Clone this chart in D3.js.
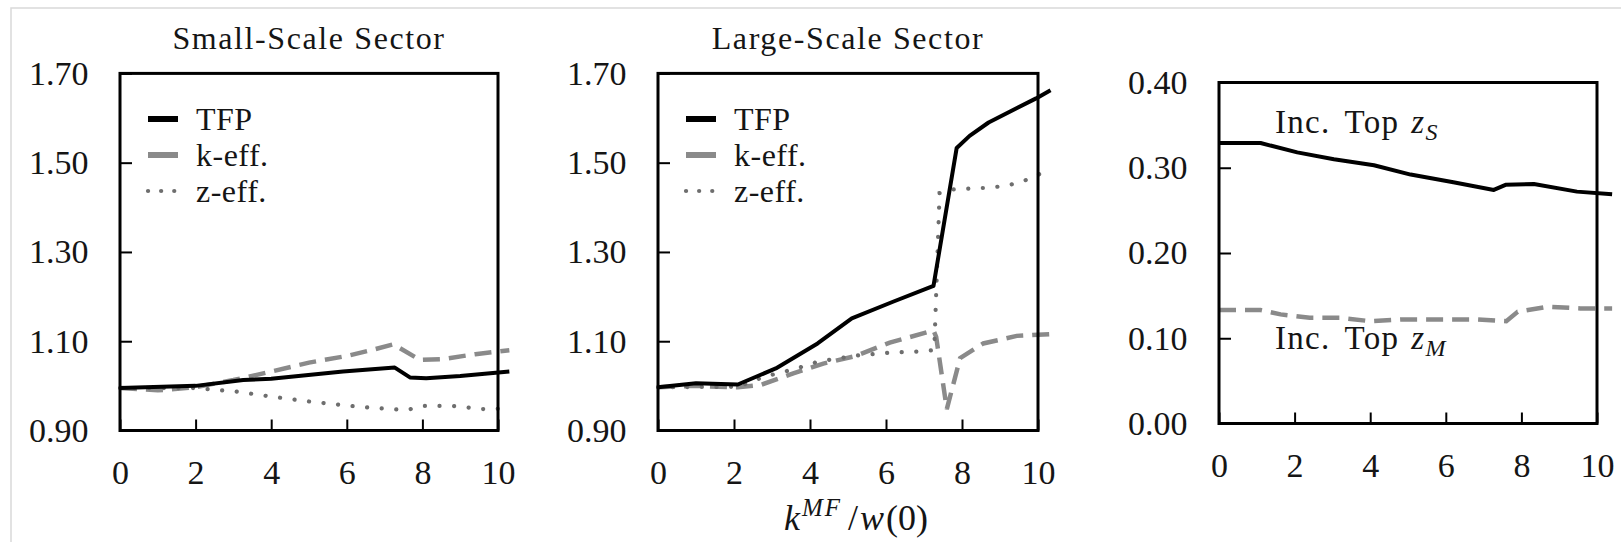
<!DOCTYPE html>
<html lang="en">
<head>
<meta charset="UTF-8">
<title>TFP by sector</title>
<style>
    body { margin: 0; background: #fff; }
    svg { display: block; font-family: "Liberation Serif", "Times New Roman", serif; }
    text { fill: #151515; }
    .axis { font-family: "Liberation Serif", "Times New Roman", serif; }
    .axis text { font-size: 34px; fill: #151515; }
    .axis line { stroke: #000; stroke-width: 2; }
    .axis path { display: none; }
    .frame { fill: none; stroke: #000; stroke-width: 3; }
    .title { font-size: 32px; letter-spacing: 1.6px; text-anchor: middle; }
    .legend text { font-size: 32px; letter-spacing: 0.5px; }
    .note { font-size: 33px; letter-spacing: 1.3px; }
    .tfp { fill: none; stroke: #000; stroke-width: 4; stroke-linejoin: round; }
    .keff { fill: none; stroke: #8a8a8a; stroke-width: 4.5; stroke-dasharray: 17 9; }
    .zeff { fill: none; stroke: #6e6e6e; stroke-width: 4.2; stroke-dasharray: 0.1 14.5; stroke-linecap: round; }
</style>
</head>
<body>
<script src="https://d3js.org/d3.v7.min.js"></script>
<script>
    const width = 1621;
    const height = 542;

    // tick values
    const xTicks = [0, 2, 4, 6, 8, 10];
    const sectorYTicks = [0.9, 1.1, 1.3, 1.5, 1.7];
    const shareYTicks = [0, 0.1, 0.2, 0.3, 0.4];
    const legendLabels = ['TFP', 'k-eff.', 'z-eff.'];
    const panelTitles = ['Small-Scale Sector', 'Large-Scale Sector'];

    // small-scale sector
    const smallTfpX = [0, 2, 3.26, 4, 5.9, 7.27, 7.67, 8.1, 9, 10.3];
    const smallTfpY = [0.995, 1.0, 1.013, 1.016, 1.032, 1.041, 1.019, 1.017, 1.022, 1.032];
    const smallKX = [0, 1, 2, 3, 4, 5, 6, 6.6, 7.23, 7.94, 8.55, 9.4, 10.3];
    const smallKY = [0.995, 0.99, 0.997, 1.013, 1.032, 1.052, 1.067, 1.079, 1.093, 1.058, 1.06, 1.071, 1.08];
    const smallZX = [0, 2, 3, 4, 5, 6, 6.8, 7.6, 8, 8.8, 9.6, 10.3];
    const smallZY = [0.995, 0.995, 0.988, 0.976, 0.965, 0.956, 0.95, 0.946, 0.955, 0.955, 0.948, 0.949];

    // large-scale sector
    const largeTfpX = [0, 1, 2.1, 3.1, 4.2, 5.1, 6.2, 7.25, 7.86, 8.2, 8.7, 9.95, 10.33];
    const largeTfpY = [0.997, 1.006, 1.003, 1.039, 1.095, 1.151, 1.189, 1.224, 1.533, 1.56, 1.59, 1.644, 1.662];
    const largeKX = [0, 0.9, 2.1, 2.7, 3.56, 4.35, 5.2, 6.1, 7.25, 7.32, 7.6, 7.95, 8.56, 9.44, 10.33];
    const largeKY = [0.997, 1.0, 0.997, 1.002, 1.028, 1.05, 1.067, 1.097, 1.124, 1.11, 0.948, 1.062, 1.095, 1.112, 1.116];
    const largeZX = [0, 2.1, 2.82, 3.65, 4.2, 5.23, 6.2, 6.85, 7.27, 7.41, 7.77, 8.72, 9.13, 9.54, 9.95, 10.33];
    const largeZY = [0.997, 0.998, 1.021, 1.039, 1.054, 1.068, 1.075, 1.077, 1.08, 1.432, 1.44, 1.444, 1.448, 1.456, 1.471, 1.486];

    // income shares of the top
    const topSX = [0, 1.1, 2.07, 3.04, 4.1, 5.07, 6.2, 7.27, 7.58, 8.33, 9.47, 10.4];
    const topSY = [0.329, 0.329, 0.318, 0.31, 0.303, 0.292, 0.283, 0.274, 0.28, 0.281, 0.272, 0.269];
    const topMX = [0, 1.1, 1.63, 2.4, 3.2, 4, 4.8, 5.7, 6.8, 7.6, 7.9, 8.7, 9.56, 10.4];
    const topMY = [0.133, 0.133, 0.128, 0.124, 0.124, 0.12, 0.122, 0.122, 0.122, 0.12, 0.131, 0.137, 0.135, 0.135];

    const svg = d3.select('body').append('svg').attr('width', width).attr('height', height);

    // light border of the scanned figure
    svg.append('path')
        .attr('d', `M11,${height} V8 H${width}`)
        .attr('fill', 'none')
        .attr('stroke', '#d9d9d9')
        .attr('stroke-width', 1.5);

    const seriesClass = ['tfp', 'keff', 'zeff'];

    function drawPanel(p) {
        const x = d3.scaleLinear().domain([0, 10]).range([p.left, p.right]);
        const y = d3.scaleLinear().domain(p.yDomain).range([p.bottom, p.top]);
        const g = svg.append('g');

        g.append('g').attr('class', 'axis')
            .attr('transform', `translate(0,${p.bottom})`)
            .call(d3.axisBottom(x).tickValues(xTicks).tickSize(-11).tickPadding(29.5).tickFormat(d3.format('d')));
        g.append('g').attr('class', 'axis')
            .attr('transform', `translate(${p.left},0)`)
            .call(d3.axisLeft(y).tickValues(p.yTicks).tickSize(-12).tickPadding(31.5).tickFormat(d3.format('.2f')));

        const line = d3.line().x(d => x(d[0])).y(d => y(d[1]));
        p.series.forEach(s => {
            g.append('path')
                .datum(d3.zip(s.x, s.y))
                .attr('class', s.cls)
                .attr('d', line);
        });

        g.append('rect').attr('class', 'frame')
            .attr('x', p.left).attr('y', p.top)
            .attr('width', p.right - p.left).attr('height', p.bottom - p.top);

        if (p.title) {
            g.append('text').attr('class', 'title')
                .attr('x', (p.left + p.right) / 2).attr('y', 49)
                .text(p.title);
        }

        if (p.legend) {
            const lg = g.append('g').attr('class', 'legend');
            const rows = [119, 155, 191];
            legendLabels.forEach((t, i) => {
                lg.append('path').attr('class', seriesClass[i])
                    .attr('d', `M${p.left + 28},${rows[i]} H${p.left + 58}`)
                    .style('stroke-width', i === 2 ? 4.2 : 6)
                    .style('stroke-dasharray', i === 1 ? 'none' : (i === 2 ? '0.1 13' : null));
                lg.append('text')
                    .attr('x', p.left + 76).attr('y', rows[i] + 11)
                    .text(t);
            });
        }
        return { x, y, g };
    }

    drawPanel({
        left: 120, right: 498, top: 73.4, bottom: 430.5,
        yDomain: [0.9, 1.7], yTicks: sectorYTicks, title: panelTitles[0], legend: true,
        series: [
            { x: smallKX, y: smallKY, cls: 'keff' },
            { x: smallZX, y: smallZY, cls: 'zeff' },
            { x: smallTfpX, y: smallTfpY, cls: 'tfp' }
        ]
    });

    drawPanel({
        left: 658, right: 1038, top: 73.4, bottom: 430.5,
        yDomain: [0.9, 1.7], yTicks: sectorYTicks, title: panelTitles[1], legend: true,
        series: [
            { x: largeKX, y: largeKY, cls: 'keff' },
            { x: largeZX, y: largeZY, cls: 'zeff' },
            { x: largeTfpX, y: largeTfpY, cls: 'tfp' }
        ]
    });

    const share = drawPanel({
        left: 1219, right: 1597, top: 82.5, bottom: 423.5,
        yDomain: [0, 0.4], yTicks: shareYTicks,
        series: [
            { x: topMX, y: topMY, cls: 'keff' },
            { x: topSX, y: topSY, cls: 'tfp' }
        ]
    });

    // series notes in the third panel
    [['S', 133], ['M', 349]].forEach(([sub, yy]) => {
        const t = share.g.append('text').attr('class', 'note').attr('x', 1275).attr('y', yy);
        t.append('tspan').text('Inc.');
        t.append('tspan').attr('dx', 14).text('Top');
        t.append('tspan').attr('dx', 12).attr('font-style', 'italic').text('z');
        t.append('tspan').attr('dy', 7).attr('font-size', 24).attr('font-style', 'italic').text(sub);
    });

    // shared x-axis label
    const xl = svg.append('text')
        .attr('x', 856).attr('y', 530)
        .attr('text-anchor', 'middle')
        .attr('font-size', 36);
    xl.append('tspan').attr('font-style', 'italic').text('k');
    xl.append('tspan').attr('font-style', 'italic').attr('font-size', 25).attr('dx', 2).attr('dy', -14).attr('letter-spacing', 2).text('MF');
    xl.append('tspan').attr('dy', 14).attr('dx', 6).text('/');
    xl.append('tspan').attr('font-style', 'italic').attr('dx', 2).text('w');
    xl.append('tspan').attr('dx', 2).text('(0)');
</script>
</body>
</html>
